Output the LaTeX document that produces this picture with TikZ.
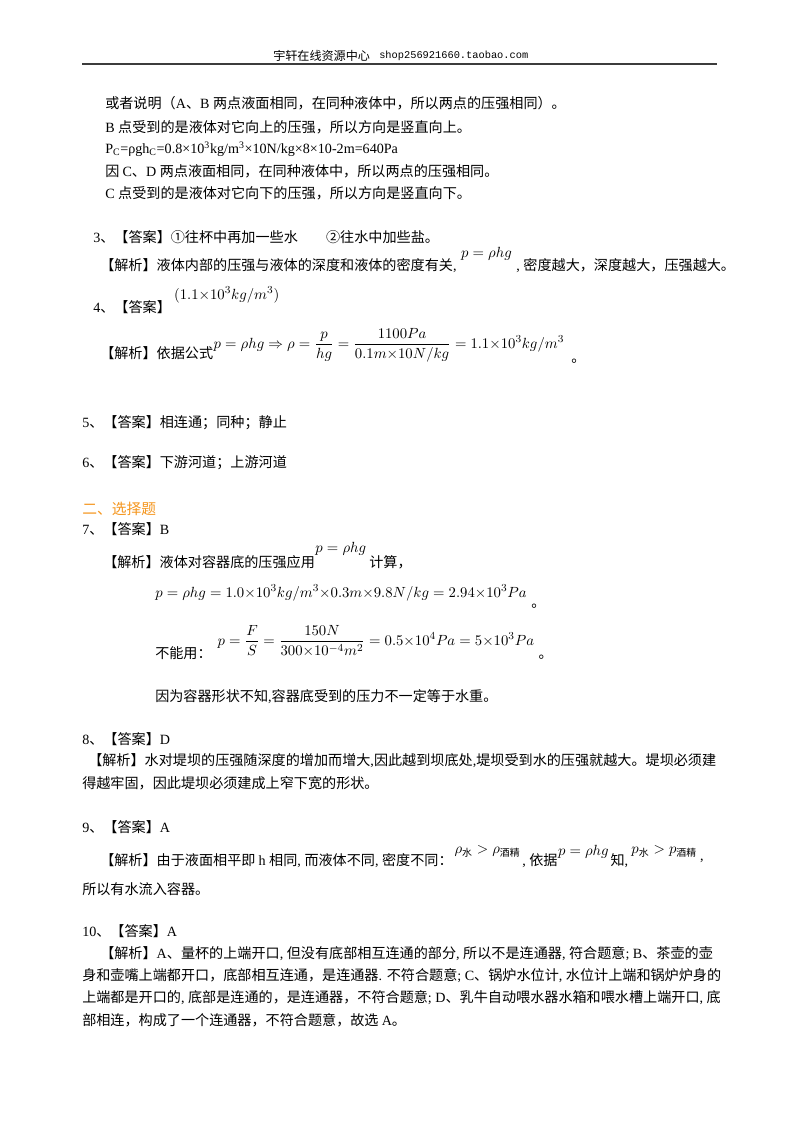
\documentclass[tikz,border=0pt]{standalone}
\usepackage{fontspec}
\usepackage{amsmath}
\setmainfont{Liberation Serif}
\setmonofont{Liberation Mono}
\newfontfamily\cjk{Noto Sans CJK SC}
\definecolor{titleorange}{RGB}{245,150,30}
\definecolor{rulegray}{RGB}{60,60,60}
% Chinese characters get the CJK font, the rest Liberation Serif
\newXeTeXintercharclass\cjkclass
\newcount\cjkcnt
\newcommand\setclassrange[3]{\cjkcnt=#2\relax
  \loop\XeTeXcharclass\cjkcnt=#1\relax
  \advance\cjkcnt by 1
  \ifnum\cjkcnt<#3\repeat}
\setclassrange{0}{"0020}{"2460}
\setclassrange{\cjkclass}{"2460}{"2500}
\setclassrange{0}{"2500}{"3000}
\setclassrange{\cjkclass}{"3000}{"3040}
\setclassrange{\cjkclass}{"4E00}{"A000}
\setclassrange{\cjkclass}{"FF00}{"FFF0}
\XeTeXinterchartoks 0 \cjkclass = {\cjk}
\XeTeXinterchartoks 4095 \cjkclass = {\cjk}
\XeTeXinterchartoks \cjkclass 0 = {\rmfamily}
\XeTeXinterchartoks 4095 0 = {\rmfamily}
\XeTeXinterchartokenstate=1
\newcommand\urltext[1]{{\XeTeXinterchartokenstate=0\relax\ttfamily #1}}
\begin{document}
\begin{tikzpicture}[x=0.7441pt, y=-0.7441pt,
  txt/.style={anchor=west, inner sep=0pt, font=\fontsize{10.5}{12}\selectfont},
  eq/.style={anchor=west, inner sep=0pt, font=\fontsize{11}{13}\selectfont}]
  \useasboundingbox (0,0) rectangle (800,1132);
  \fill[white] (0,0) rectangle (800,1132);
  % header
  \node[txt, font=\fontsize{9}{10}\selectfont] (hdrcn) at (273,56) {宇轩在线资源中心};
  \node[txt, font=\fontsize{7.7}{9}\selectfont] (hdrurl) at (379,56) {\urltext{shop256921660.taobao.com}};
  \coordinate (rulel) at (82,64);
  \coordinate (ruler) at (717,64);
  \draw[rulegray, line width=1.1pt] (rulel) -- (ruler);
  % rest of question 2
  \node[txt] (q2a) at (105,103) {或者说明（A、B 两点液面相同，在同种液体中，所以两点的压强相同）。};
  \node[txt] (q2b) at (105,127) {B 点受到的是液体对它向上的压强，所以方向是竖直向上。};
  \node[txt] (q2c) at (105,149) {P\textsubscript{C}=ρgh\textsubscript{C}=0.8×10\textsuperscript{3}kg/m\textsuperscript{3}×10N/kg×8×10-2m=640Pa};
  \node[txt] (q2d) at (105,171) {因 C、D 两点液面相同，在同种液体中，所以两点的压强相同。};
  \node[txt] (q2e) at (105,193) {C 点受到的是液体对它向下的压强，所以方向是竖直向下。};
  % question 3
  \node[txt] (ans3) at (93,237) {3、【答案】①往杯中再加一些水\hspace{2em}②往水中加些盐。};
  \node[txt] (ana3) at (100,266) {【解析】液体内部的压强与液体的深度和液体的密度有关,};
  \node[eq] (eq3) at (ana3.east) [xshift=3pt, yshift=9pt] {$p=\rho hg$};
  \node[txt] (ana3b) at (eq3.east |- ana3) [xshift=3pt] {, 密度越大，深度越大，压强越大。};
  % question 4
  \node[txt] (ans4) at (93,307) {4、【答案】};
  \node[eq] (eq4a) at (ans4.east) [xshift=2pt, yshift=9pt] {$(1.1{\times}10^3kg/m^3)$};
  \node[txt] (ana4) at (100,353) {【解析】依据公式};
  \node[eq] (eq4b) at (ana4.east) [yshift=6pt] {$p=\rho hg\Rightarrow\rho=\dfrac{p}{hg}=\dfrac{1100Pa}{0.1m{\times}10N/kg}=1.1{\times}10^3kg/m^3$};
  \node[txt] (dot4) at (eq4b.east |- ana4) [xshift=5pt, yshift=-6pt] {。};
  % questions 5 and 6
  \node[txt] (ans5) at (82,423) {5、【答案】相连通；同种；静止};
  \node[txt] (ans6) at (82,463) {6、【答案】下游河道；上游河道};
  % choice questions
  \node[txt, font=\fontsize{11}{13}\selectfont, text=titleorange] (sec2) at (82,509) {二、选择题};
  \node[txt] (ans7) at (82,529) {7、【答案】B};
  \node[txt] (ana7) at (103,562) {【解析】液体对容器底的压强应用};
  \node[eq] (eq7a) at (ana7.east) [yshift=10pt] {$p=\rho hg$};
  \node[txt] (ana7b) at (eq7a.east |- ana7) [xshift=2pt] {计算，};
  \node[eq] (eq7b) at (155,593) {$p=\rho hg=1.0{\times}10^3kg/m^3{\times}0.3m{\times}9.8N/kg=2.94{\times}10^3Pa$};
  \node[txt] (dot7b) at (eq7b.east) [xshift=3pt, yshift=-10pt] {。};
  \node[txt] (ana7c) at (155,653) {不能用：};
  \node[eq] (eq7c) at (ana7c.east) [xshift=4pt, yshift=9pt] {$p=\dfrac{F}{S}=\dfrac{150N}{300{\times}10^{-4}m^2}=0.5{\times}10^4Pa=5{\times}10^3Pa$};
  \node[txt] (dot7c) at (eq7c.east |- ana7c) [xshift=3pt, yshift=-3pt] {。};
  \node[txt] (ana7d) at (155,697) {因为容器形状不知,容器底受到的压力不一定等于水重。};
  % question 8
  \node[txt] (ans8) at (82,739) {8、【答案】D};
  \node[txt] (ana8a) at (88,761) {【解析】水对堤坝的压强随深度的增加而增大,因此越到坝底处,堤坝受到水的压强就越大。堤坝必须建};
  \node[txt] (ana8b) at (82,783) {得越牢固，因此堤坝必须建成上窄下宽的形状。};
  % question 9
  \node[txt] (ans9) at (82,827) {9、【答案】A};
  \node[txt] (ana9a) at (100,861) {【解析】由于液面相平即 h 相同, 而液体不同, 密度不同：};
  \node[eq, font=\fontsize{10.5}{12}\selectfont] (eq9a) at (ana9a.east) [xshift=1pt, yshift=7pt] {$\rho_{\text{水}}>\rho_{\text{酒精}}$};
  \node[txt] (ana9b) at (eq9a.east |- ana9a) [xshift=1pt] {, 依据};
  \node[eq, font=\fontsize{10.5}{12}\selectfont] (eq9b) at (ana9b.east) [yshift=7pt] {$p=\rho hg$};
  \node[txt] (ana9c) at (eq9b.east |- ana9a) [xshift=1pt] {知,};
  \node[eq, font=\fontsize{10.5}{12}\selectfont] (eq9c) at (ana9c.east) [xshift=2pt, yshift=7pt] {$p_{\text{水}}>p_{\text{酒精}}$};
  \node[txt] (ana9d) at (eq9c.east |- ana9a) [xshift=2pt] {,};
  \node[txt] (ana9e) at (82,889) {所以有水流入容器。};
  % question 10
  \node[txt] (ans10) at (82,931) {10、【答案】A};
  \node[txt] (ana10a) at (100,954) {【解析】A、量杯的上端开口, 但没有底部相互连通的部分, 所以不是连通器, 符合题意; B、茶壶的壶};
  \node[txt] (ana10b) at (82,976) {身和壶嘴上端都开口，底部相互连通，是连通器. 不符合题意; C、锅炉水位计, 水位计上端和锅炉炉身的};
  \node[txt] (ana10c) at (82,998) {上端都是开口的, 底部是连通的，是连通器，不符合题意; D、乳牛自动喂水器水箱和喂水槽上端开口, 底};
  \node[txt] (ana10d) at (82,1020) {部相连，构成了一个连通器，不符合题意，故选 A。};
\end{tikzpicture}
\end{document}
